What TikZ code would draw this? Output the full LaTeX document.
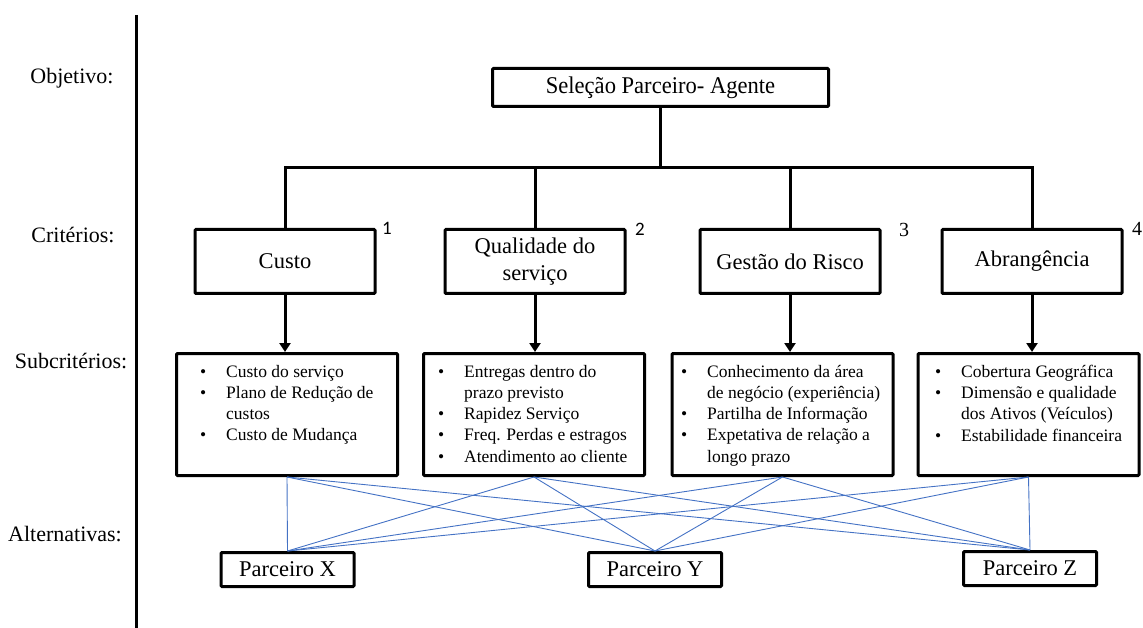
\documentclass[tikz,border=0pt]{standalone}
\usepackage{fontspec}
\setmainfont{Liberation Serif}
\newfontfamily\calibrifont{Carlito}
\usetikzlibrary{arrows.meta}
\definecolor{linkblue}{HTML}{4472C4}
\newcommand\bitem{\makebox[26pt][l]{\textbullet}}
\newcommand\bcont{\hspace*{26pt}}

\begin{document}
\begin{tikzpicture}[x=1pt, y=-1pt,
  every node/.style={align=center, inner sep=0pt},
  level/.style={font=\fontsize{22}{26}\selectfont},
  box/.style={draw, line width=3pt, rounded corners=1pt},
  goalbox/.style={box, minimum width=336pt, minimum height=38pt, font=\fontsize{24}{28}\selectfont},
  critbox/.style={box, minimum width=180pt, minimum height=64pt, font=\fontsize{22.5}{27}\selectfont},
  subbox/.style={box, minimum width=221pt, minimum height=122pt},
  subtext/.style={anchor=north west, align=left, font=\fontsize{17.5}{21.2}\selectfont},
  altbox/.style={box, minimum width=133pt, minimum height=34pt, font=\fontsize{22.5}{27}\selectfont},
  num/.style={font=\fontsize{20}{24}\selectfont},
  tree/.style={line width=3pt},
  link/.style={draw=linkblue, line width=0.9pt}]
  \useasboundingbox (0,0) rectangle (1143,628);
  \draw[tree] (136,15) -- (136,628);

  \node[level] (lobj) at (72,78) {Objetivo:};
  \node[level] (lcrit) at (73,235) {Critérios:};
  \node[level] (lsub) at (71,361) {Subcritérios:};
  \node[level] (lalt) at (65,534) {Alternativas:};

  \node[goalbox] (goal) at (660.5,87.5) {\scalebox{0.94}[1]{Seleção Parceiro- Agente}};

  \node[critbox] (c1) at (285,261.5) {Custo};
  \node[critbox] (c2) at (535,261.5) {Qualidade do\\serviço};
  \node[critbox] (c3) at (790,261.5) {Gestão do Risco};
  \node[critbox] (c4) at (1032,261.5) {Abrangência};
  \node[num, font=\calibrifont\fontsize{19}{22}\selectfont] (n1) at (387,228) {1};
  \node[num, font=\calibrifont\fontsize{19}{22}\selectfont] (n2) at (640,229) {2};
  \node[num] (n3) at (904,230) {3};
  \node[num] (n4) at (1137,229) {4};

  \node[subbox] (s1) at (287,414.5) {};
  \node[subbox] (s2) at (534,414.5) {};
  \node[subbox] (s3) at (782.5,414.5) {};
  \node[subbox] (s4) at (1028.5,414.5) {};
  \node[subtext] (t1) at (200,365) {\bitem Custo do serviço\\ \bitem Plano de Redução de\\ \bcont custos\\ \bitem Custo de Mudança};
  \node[subtext] (t2) at (438,365) {\bitem Entregas dentro do\\ \bcont prazo previsto\\ \bitem Rapidez Serviço\\ \bitem Freq. Perdas e estragos\\ \bitem Atendimento ao cliente};
  \node[subtext] (t3) at (681,365) {\bitem Conhecimento da área\\ \bcont de negócio (experiência)\\ \bitem Partilha de Informação\\ \bitem Expetativa de relação a\\ \bcont longo prazo};
  \node[subtext] (t4) at (935,365) {\bitem Cobertura Geográfica\\ \bitem Dimensão e qualidade\\ \bcont dos Ativos (Veículos)\\ \bitem Estabilidade financeira};

  \node[altbox] (a1) at (287.5,569.5) {Parceiro X};
  \node[altbox] (a2) at (655,569.5) {Parceiro Y};
  \node[altbox] (a3) at (1030,568.5) {Parceiro Z};

  \coordinate (bar) at (0,168);
  \draw[tree] (goal.south) -- (goal.south |- bar);
  \draw[tree] (c1.north) -- (c1.north |- bar) -- (c4.north |- bar) -- (c4.north);
  \draw[tree] (c2.north) -- (c2.north |- bar);
  \draw[tree] (c3.north) -- (c3.north |- bar);
  \foreach \i in {1,...,4}
    \draw[tree, -{Triangle[width=11pt,length=9pt]}] (c\i.south) -- (c\i.south |- s\i.north);
  \foreach \i in {1,...,4}
    \foreach \j in {1,2,3}
      \draw[link] (s\i.south) -- (a\j.north);
\end{tikzpicture}
\end{document}
